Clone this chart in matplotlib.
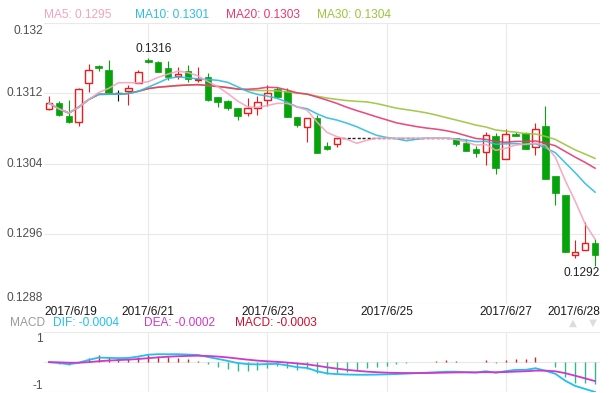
import matplotlib
matplotlib.use("Agg")
import matplotlib.pyplot as plt
import matplotlib.transforms as mtransforms
from matplotlib.patches import Rectangle
import numpy as np
import pandas as pd

# 4h candles
opens = [0.13102, 0.13109, 0.13094, 0.13088, 0.13132, 0.13151, 0.13147, 0.13120,
         0.13123, 0.13132, 0.13158, 0.13156, 0.13149, 0.13140, 0.13146, 0.13135,
         0.13139, 0.13116, 0.13111, 0.13104, 0.13098, 0.13104, 0.13112, 0.13125,
         0.13123, 0.13093, 0.13082, 0.13092, 0.13060, 0.13062,
         0.13069, 0.13069, 0.13069, 0.13069, 0.13069, 0.13069, 0.13069, 0.13069,
         0.13069, 0.13069, 0.13069,
         0.13069, 0.13063, 0.13057, 0.13053, 0.13072, 0.13045, 0.13074, 0.13075,
         0.13059, 0.13083, 0.13026, 0.13004, 0.12936, 0.12941, 0.12950]
highs = [0.13117, 0.13111, 0.13113, 0.13126, 0.13154, 0.13152, 0.13158, 0.13124,
         0.13130, 0.13147, 0.13161, 0.13157, 0.13157, 0.13150, 0.13153, 0.13150,
         0.13143, 0.13116, 0.13112, 0.13104, 0.13115, 0.13117, 0.13130, 0.13127,
         0.13126, 0.13093, 0.13092, 0.13095, 0.13065, 0.13068,
         0.13069, 0.13069, 0.13069, 0.13069, 0.13069, 0.13069, 0.13069, 0.13069,
         0.13069, 0.13069, 0.13069,
         0.13069, 0.13068, 0.13060, 0.13076, 0.13075, 0.13079, 0.13076, 0.13076,
         0.13086, 0.13106, 0.13026, 0.13004, 0.12953, 0.12973, 0.12954]
lows = [0.13101, 0.13094, 0.13086, 0.13083, 0.13122, 0.13146, 0.13120, 0.13111,
        0.13107, 0.13132, 0.13155, 0.13145, 0.13135, 0.13136, 0.13133, 0.13133,
        0.13111, 0.13105, 0.13101, 0.13090, 0.13094, 0.13096, 0.13106, 0.13115,
        0.13093, 0.13082, 0.13065, 0.13052, 0.13056, 0.13059,
        0.13069, 0.13069, 0.13069, 0.13069, 0.13069, 0.13069, 0.13069, 0.13069,
        0.13069, 0.13069, 0.13069,
        0.13060, 0.13054, 0.13048, 0.13038, 0.13028, 0.13045, 0.13071, 0.13057,
        0.13050, 0.13022, 0.12993, 0.12939, 0.12933, 0.12941, 0.12923]
closes = [0.13109, 0.13096, 0.13088, 0.13125, 0.13147, 0.13149, 0.13120, 0.13120,
          0.13126, 0.13145, 0.13156, 0.13145, 0.13139, 0.13142, 0.13137, 0.13137,
          0.13113, 0.13110, 0.13103, 0.13094, 0.13104, 0.13110, 0.13120, 0.13116,
          0.13093, 0.13084, 0.13092, 0.13052, 0.13057, 0.13069,
          0.13069, 0.13069, 0.13069, 0.13069, 0.13069, 0.13069, 0.13069, 0.13069,
          0.13069, 0.13069, 0.13069,
          0.13062, 0.13054, 0.13052, 0.13073, 0.13035, 0.13074, 0.13072, 0.13057,
          0.13079, 0.13023, 0.13006, 0.12939, 0.12939, 0.12950, 0.12936]

price_ticks = [0.1288, 0.1296, 0.1304, 0.1312, 0.1320]
price_labels = ["0.1288", "0.1296", "0.1304", "0.1312", "0.132"]
date_pos = [0, 10, 22, 34, 46, 55]
date_labels = ["2017/6/19", "2017/6/21", "2017/6/23", "2017/6/25", "2017/6/27", "2017/6/28"]

ma_periods = [5, 10, 20, 30]
ma_texts = ["MA5: 0.1295", "MA10: 0.1301", "MA20: 0.1303", "MA30: 0.1304"]
ma_colors = ["#f5a3bc", "#2fbce2", "#e8386f", "#9cc43c"]
macd_texts = ["DIF: -0.0004", "DEA: -0.0002", "MACD: -0.0003"]
macd_colors = ["#22bff0", "#cf38c9", "#c8102e"]

UP = "#f01818"
DOWN = "#07a30a"
GRID = "#e9e9e9"
FS = 8.6

plt.rcParams["font.family"] = ["Liberation Sans", "DejaVu Sans"]

W, H = 609, 393
fig = plt.figure(figsize=(W / 100, H / 100), dpi=100)
ax = fig.add_axes([44 / W, 1 - 304 / H, 556 / W, (304 - 23.3) / H])
mx = fig.add_axes([44 / W, 1 - 392 / H, 556 / W, (392 - 332.3) / H])

o, hi, lo, c = (np.array(a) for a in (opens, highs, lows, closes))
x = np.arange(len(c))
bw = 0.66

# candles
for i in x:
    if c[i] > o[i]:
        ax.vlines(i, c[i], hi[i], color=UP, lw=0.8, zorder=2)
        ax.vlines(i, lo[i], o[i], color=UP, lw=0.8, zorder=2)
        ax.add_patch(Rectangle((i - bw / 2, o[i]), bw, c[i] - o[i], fill=False,
                               edgecolor=UP, lw=1.0, zorder=2))
    elif c[i] < o[i]:
        ax.vlines(i, lo[i], hi[i], color=DOWN, lw=0.8, zorder=2)
        ax.add_patch(Rectangle((i - bw / 2, c[i]), bw, o[i] - c[i],
                               facecolor=DOWN, edgecolor=DOWN, lw=0.5, zorder=2))
    elif hi[i] == lo[i]:
        # flat candles (no trading) show up as a dashed line
        ax.hlines(c[i], i - 0.5, i + 0.5, color="#222222", lw=1.0,
                  linestyles=(0, (2.2, 1.6)), zorder=2)
    else:
        ax.vlines(i, lo[i], hi[i], color="#111111", lw=0.8, zorder=2)
        ax.hlines(c[i], i - bw / 2, i + bw / 2, color="#111111", lw=1.0, zorder=2)

# moving averages
s = pd.Series(c)
for p, col in list(zip(ma_periods, ma_colors))[::-1]:
    ax.plot(x, s.rolling(p, min_periods=1).mean(), color=col, lw=1.15,
            alpha=0.9, zorder=3)

ax.set_xlim(-0.5, len(c) - 0.5)
ax.set_ylim(price_ticks[0], price_ticks[-1])
ax.set_yticks(price_ticks)
ax.set_xticks(date_pos[1:-1])
ax.grid(True, color=GRID, lw=0.8)
ax.tick_params(length=0, labelleft=False, labelbottom=False)
for sp in ax.spines.values():
    sp.set_visible(False)

# y labels
ytrans = mtransforms.blended_transform_factory(fig.transFigure, ax.transData)
for v, lab in zip(price_ticks, price_labels):
    if v == price_ticks[-1]:
        va, dy = "top", -2
    elif v == price_ticks[0]:
        va, dy = "bottom", 0
    else:
        va, dy = "center", 0
    ax.text(43 / W, v, lab, ha="right", va=va, fontsize=FS, color="#505050",
            transform=mtransforms.offset_copy(ytrans, fig, y=dy, units="dots"))

# high / low markers
ih = int(np.argmax(hi))
ax.annotate(f"{hi[ih]:.4f}", (ih, hi[ih]), xytext=(5, 3), textcoords="offset pixels",
            ha="center", va="bottom", fontsize=FS, color="#222222")
il = int(np.argmin(lo))
ax.annotate(f"{lo[il]:.4f}", (il, lo[il]), xytext=(5, -1), textcoords="offset pixels",
            ha="right", va="top", fontsize=FS, color="#222222")

# dates
dtrans = mtransforms.blended_transform_factory(ax.transData, fig.transFigure)
for k, (p, lab) in enumerate(zip(date_pos, date_labels)):
    if k == 0:
        xp, ha = -0.5, "left"
    elif k == len(date_pos) - 1:
        xp, ha = len(c) - 0.5, "right"
    else:
        xp, ha = p, "center"
    ax.text(xp, 1 - 312 / H, lab, ha=ha, va="center", fontsize=FS,
            color="#1a1a1a", transform=dtrans)

# top legend
for k, (t, col) in enumerate(zip(ma_texts, ma_colors)):
    fig.text((44 + 91 * k) / W, 1 - 15 / H, t, ha="left", va="center",
             fontsize=FS, color=col)

# MACD
ema12 = s.ewm(span=12, adjust=False).mean()
ema26 = s.ewm(span=26, adjust=False).mean()
dif = ema12 - ema26
dea = dif.ewm(span=9, adjust=False).mean()
hist = 2 * (dif - dea)

mx.vlines(x, 0, hist, colors=np.where(hist >= 0, "#c9281e", "#2db98b"), lw=1.0,
          zorder=2)
mx.plot(x, dif, color=macd_colors[0], lw=1.3, zorder=3)
mx.plot(x, dea, color=macd_colors[1], lw=1.3, zorder=3)
lim = max(dif.abs().max(), dea.abs().max(), hist.abs().max())
mx.set_xlim(-0.5, len(c) - 0.5)
mx.set_ylim(-lim, lim)
mx.set_yticks([-lim, 0, lim])
mx.set_xticks(date_pos[1:-1])
mx.grid(True, color=GRID, lw=0.8)
mx.tick_params(length=0, labelleft=False, labelbottom=False)
for sp in mx.spines.values():
    sp.set_visible(False)

mtrans = mtransforms.blended_transform_factory(fig.transFigure, mx.transData)
mx.text(43 / W, lim, "1", ha="right", va="top", fontsize=FS, color="#505050",
        transform=mtransforms.offset_copy(mtrans, fig, y=-1, units="dots"))
mx.text(43 / W, -lim, "-1", ha="right", va="bottom", fontsize=FS, color="#505050",
        transform=mtrans)

fig.text(10 / W, 1 - 323 / H, "MACD", ha="left", va="center", fontsize=FS,
         color="#9a9a9a")
for k, (t, col) in enumerate(zip(macd_texts, macd_colors)):
    fig.text((53 + 91 * k) / W, 1 - 323 / H, t, ha="left", va="center",
             fontsize=FS, color=col)
fig.text(573 / W, 1 - 323 / H, "▲", ha="center", va="center", fontsize=7.5,
         color="#dddddd", family="DejaVu Sans")
fig.text(593 / W, 1 - 323 / H, "▼", ha="center", va="center", fontsize=7.5,
         color="#dddddd", family="DejaVu Sans")

fig.savefig("out.png", dpi=100, facecolor="white")
